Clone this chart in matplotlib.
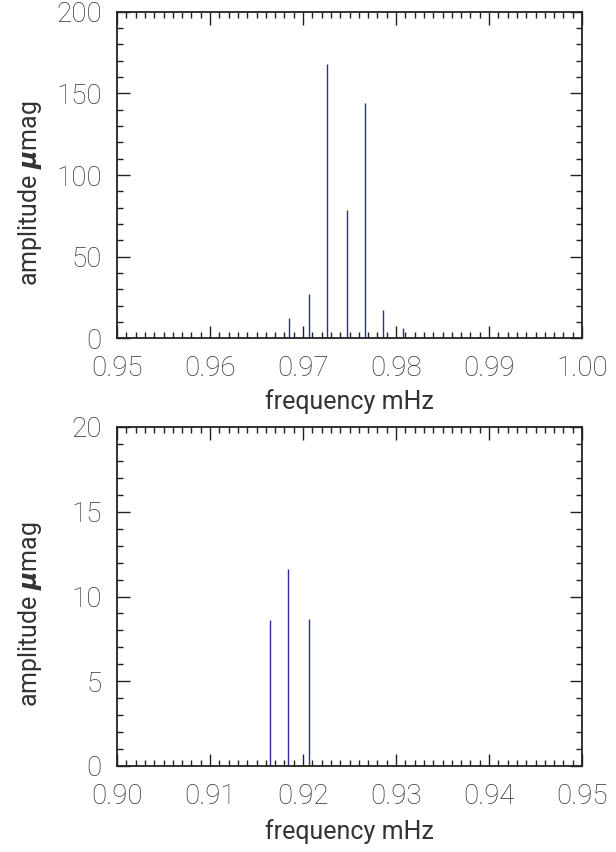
import matplotlib
matplotlib.use("Agg")
import matplotlib.pyplot as plt
from matplotlib.ticker import FixedLocator, MultipleLocator

# top panel: peaks around 0.97 mHz
freq_top = [0.9685, 0.9706, 0.9726, 0.9747, 0.9767, 0.9786, 0.9807]
amp_top = [12.4, 27.1, 168.0, 78.6, 144.3, 17.3, 6.3]
xticks_top = [0.95, 0.96, 0.97, 0.98, 0.99, 1.00]
xlabels_top = ["0.95", "0.96", "0.97", "0.98", "0.99", "1.00"]

# bottom panel: peaks around 0.92 mHz
freq_bot = [0.9164, 0.9184, 0.9206]
amp_bot = [8.6, 11.6, 8.7]
xticks_bot = [0.90, 0.91, 0.92, 0.93, 0.94, 0.95]
xlabels_bot = ["0.90", "0.91", "0.92", "0.93", "0.94", "0.95"]

line_color = "#2b2b9c"
text_color = "#333333"
plt.rcParams["font.family"] = ["Roboto", "DejaVu Sans"]
plt.rcParams["font.weight"] = "light"
plt.rcParams["mathtext.fontset"] = "dejavusans"

fig = plt.figure(figsize=(6.16, 8.52), dpi=100)
ax1 = fig.add_axes([117 / 616, (852 - 338.3) / 852, 465 / 616, 326.6 / 852])
ax2 = fig.add_axes([117 / 616, (852 - 766) / 852, 465 / 616, 339 / 852])


def style_axis(ax, xticks, xlabels, ylim, ymajor, yminor, h, xlab_off):
    ax.set_xlim(xticks[0], xticks[-1])
    ax.set_ylim(*ylim)
    ax.xaxis.set_major_locator(FixedLocator(xticks))
    ax.set_xticklabels(xlabels)
    ax.xaxis.set_minor_locator(MultipleLocator(0.001))
    ax.yaxis.set_major_locator(MultipleLocator(ymajor))
    ax.yaxis.set_minor_locator(MultipleLocator(yminor))
    ax.tick_params(which="both", direction="in", top=True, right=True,
                   width=1.0, colors="#222222", labelcolor=text_color)
    ax.tick_params(which="major", length=9)
    ax.tick_params(which="minor", length=4.5)
    ax.tick_params(axis="x", which="major", pad=12, labelsize=20)
    ax.tick_params(axis="y", which="major", pad=11, labelsize=20)
    for s in ax.spines.values():
        s.set_linewidth(1.3)
        s.set_color("#222222")
    xl = ax.set_xlabel("frequency mHz", fontsize=18, color=text_color,
                       ha="center", va="center")
    yl = ax.set_ylabel(r"amplitude $\boldsymbol{\mu}$mag", fontsize=18,
                       color=text_color, ha="center", va="center")
    ax.xaxis.set_label_coords(0.5, -xlab_off / h)
    ax.yaxis.set_label_coords(-87 / 465, 0.5 - 18 / h)


ax1.vlines(freq_top, 0, amp_top, color=line_color, linewidth=1.0)
style_axis(ax1, xticks_top, xlabels_top, (0, 200), 50, 10, 326.6, 63)

ax2.vlines(freq_bot, 0, amp_bot, color=line_color, linewidth=1.0)
style_axis(ax2, xticks_bot, xlabels_bot, (0, 20), 5, 1, 339, 66)

fig.savefig("out.png", dpi=100)
